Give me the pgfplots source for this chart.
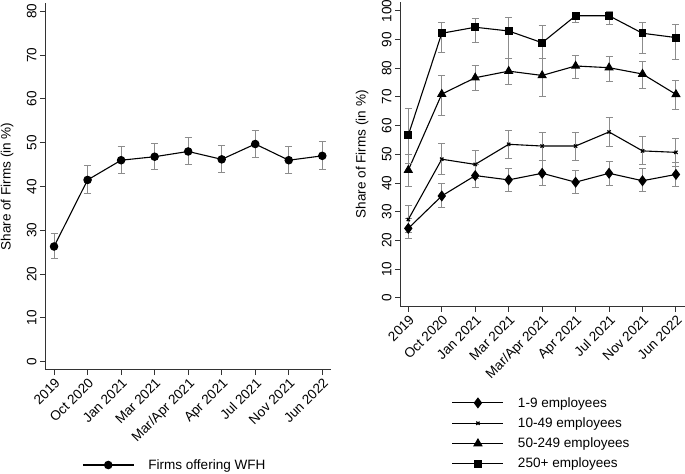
\documentclass[border=0pt]{standalone}
\usepackage{fontspec}
\setmainfont{Liberation Sans}
\usepackage{pgfplots}
\usepackage{pgfplotstable}
\pgfplotsset{compat=1.18}
\newcommand{\chartfont}{\fontsize{13.6}{16}\selectfont}

\pgfplotstableread{
x y ep em
0 26.3 2.9 2.7
1 41.5 3.4 3.1
2 46.0 3.1 3.0
3 46.8 3.1 3.0
4 48.0 3.2 3.0
5 46.2 3.2 3.1
6 49.7 3.2 3.1
7 46.0 3.1 3.1
8 47.0 3.2 3.2
}\tabwfh
\pgfplotstableread{
x y ep em
0 24.2 3.5 3.5
1 35.5 4.4 4.1
2 42.6 4.0 4.0
3 41.1 4.0 4.1
4 43.4 4.4 4.2
5 40.3 4.0 4.1
6 43.4 4.0 4.3
7 40.8 4.3 3.8
8 43.0 4.1 4.3
}\tabA
\pgfplotstableread{
x y ep em
0 27.3 4.7 4.7
1 48.3 5.4 5.4
2 46.5 4.8 4.8
3 53.5 4.7 5.0
4 52.9 4.7 4.9
5 52.9 4.8 5.1
6 57.8 5.1 4.9
7 51.2 5.0 4.9
8 50.7 4.9 5.0
}\tabB
\pgfplotstableread{
x y ep em
0 44.5 5.6 5.6
1 71.0 6.4 7.3
2 76.7 4.2 4.6
3 79.0 4.4 4.7
4 77.5 6.0 7.4
5 80.8 3.7 4.5
6 80.2 3.9 4.9
7 78.0 4.2 5.0
8 70.9 4.8 5.2
}\tabC
\pgfplotstableread{
x y ep em
0 56.7 9.4 9.8
1 92.2 3.7 6.7
2 94.3 2.9 5.4
3 93.0 4.8 9.5
4 88.9 5.9 5.4
5 98.3 1.2 2.4
6 98.3 1.4 2.9
7 92.2 3.9 7.1
8 90.7 4.4 7.5
}\tabD

\pgfplotsset{
  stata/.style={
    scale only axis, anchor=south west, clip=false,
    axis x line*=bottom, axis y line*=left,
    axis line style={black!80, line width=1bp, -},
    tick align=outside, major tick length=5bp,
    tick style={black!80, line width=1bp},
    xtick={0,...,8},
    xticklabels={2019,Oct 2020,Jan 2021,Mar 2021,Mar/Apr 2021,Apr 2021,Jul 2021,Nov 2021,Jun 2022},
    xticklabel style={rotate=45, anchor=north east, font=\chartfont, inner sep=1.5bp},
    yticklabel style={rotate=90, anchor=south, font=\chartfont},
    /pgf/number format/assume math mode=true,
    ylabel={Share of Firms (in \%)},
    ylabel style={font=\chartfont, at={(axis description cs:0,0.5)}, anchor=center, yshift=38bp},
    legend cell align=left,
    legend image code/.code={\draw[mark repeat=2,mark phase=2,##1] plot coordinates {(0bp,0bp) (25.5bp,0bp) (51bp,0bp)};},
    legend style={draw=none, fill=none, inner sep=0pt, font=\chartfont, column sep=12bp, row sep=5bp, anchor=west},
  },
  ser/.style={black, line width=1.1bp, mark options={solid, fill=black},
    error bars/y dir=both, error bars/y explicit,
    error bars/error bar style={black!45, line width=1bp},
    error bars/error mark=-,
    error bars/error mark options={rotate=90, black!45, mark size=3.5bp, line width=1bp}},
}

\begin{document}
\begin{tikzpicture}
\path[use as bounding box] (0,0) rectangle (685bp,474bp);
\begin{axis}[stata, at={(45bp,104bp)}, width=286bp, height=367bp,
  xmin=-0.27, xmax=8.26, ymin=-1.9, ymax=81.9, ytick={0,10,...,80},
  legend style={at={(0.1294,-0.2589)}}]
\addplot[ser, mark=*, mark size=3.7bp] table[x=x,y=y,y error plus=ep,y error minus=em]{\tabwfh};
\addlegendentry{Firms offering WFH}
\end{axis}
\begin{axis}[stata, at={(400bp,167.3bp)}, width=285bp, height=304.7bp,
  xmin=-0.248, xmax=8.27, ymin=-3.1, ymax=103.1, ytick={0,10,...,100},
  legend style={at={(0.1814,-0.4157)}}]
\addplot[ser, mark=diamond*, mark size=4.7bp] table[x=x,y=y,y error plus=ep,y error minus=em]{\tabA};
\addlegendentry{1-9 employees}
\addplot[ser, mark=x, mark size=2.3bp, mark options={solid, line width=1.2bp}] table[x=x,y=y,y error plus=ep,y error minus=em]{\tabB};
\addlegendentry{10-49 employees}
\addplot[ser, mark=triangle*, mark size=4.4bp] table[x=x,y=y,y error plus=ep,y error minus=em]{\tabC};
\addlegendentry{50-249 employees}
\addplot[ser, mark=square*, mark size=3.4bp] table[x=x,y=y,y error plus=ep,y error minus=em]{\tabD};
\addlegendentry{250+ employees}
\end{axis}
\end{tikzpicture}
\end{document}
